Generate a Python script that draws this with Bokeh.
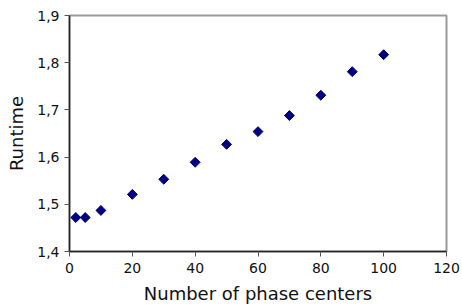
from bokeh.plotting import figure
from bokeh.models import CustomJSTickFormatter, FixedTicker, Range1d
from bokeh.embed import file_html
from bokeh.resources import INLINE
import numpy as np

phase_centers = [2, 5, 10, 20, 30, 40, 50, 60, 70, 80, 90, 100]
runtime = [1.472, 1.472, 1.487, 1.521, 1.553, 1.589, 1.627, 1.654, 1.688, 1.731, 1.781, 1.817]
x_ticks = [0, 20, 40, 60, 80, 100, 120]
y_ticks = [1.4, 1.5, 1.6, 1.7, 1.8, 1.9]

p = figure(width=462, height=307, output_backend="svg", toolbar_location=None,
           x_range=Range1d(0, 120), y_range=Range1d(1.4, 1.9),
           min_border_left=69, min_border_top=15, min_border_right=16, min_border_bottom=56)

p.scatter(phase_centers, runtime, marker="square", angle=np.pi/4, size=7,
          fill_color="#000080", line_color="#000080")

p.xgrid.visible = False
p.ygrid.visible = False
p.outline_line_color = "#999999"
p.outline_line_width = 2

for ax, ticks in ((p.xaxis[0], x_ticks), (p.yaxis[0], y_ticks)):
    ax.ticker = FixedTicker(ticks=ticks)
    ax.minor_tick_line_color = None
    ax.major_tick_in = 0
    ax.major_tick_out = 5
    ax.axis_line_color = "#222222"
    ax.axis_line_width = 1.5
    ax.major_tick_line_color = "#555555"
    ax.major_label_text_font = "DejaVu Sans"
    ax.major_label_text_font_size = "14px"
    ax.major_label_text_color = "#111111"
    ax.axis_label_text_font = "DejaVu Sans"
    ax.axis_label_text_font_size = "18px"
    ax.axis_label_text_font_style = "normal"
    ax.axis_label_text_color = "#111111"
    ax.axis_label_standoff = 7

p.xaxis[0].formatter = CustomJSTickFormatter(code="return tick.toFixed(0);")
p.yaxis[0].formatter = CustomJSTickFormatter(code="return tick.toFixed(1).replace('.', ',');")
p.xaxis[0].axis_label = "Number of phase centers"
p.yaxis[0].axis_label = "Runtime"
p.xaxis[0].major_label_standoff = 6
p.yaxis[0].major_label_standoff = 5

open("out.html", "w").write(file_html(p, INLINE))
